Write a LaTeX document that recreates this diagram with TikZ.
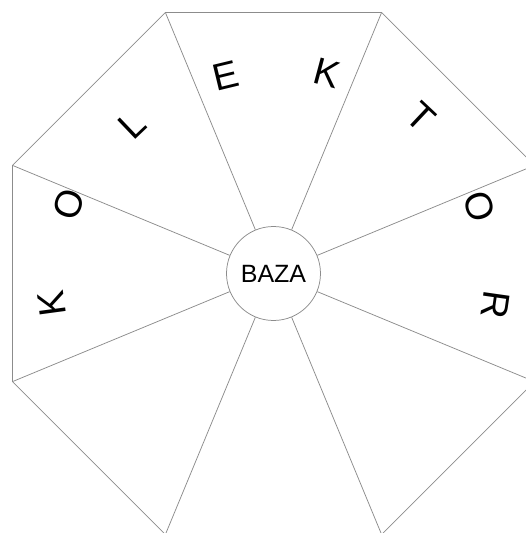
\documentclass[tikz,border=0pt]{standalone}
\usepackage{fontspec}
\setmainfont{Liberation Sans}
\begin{document}
\begin{tikzpicture}[x=1pt,y=1pt,
  edge/.style={draw=black!45,line width=0.75pt},
  letter/.style={inner sep=0pt,font=\fontsize{38}{44}\selectfont},
  hub/.style={circle,draw=black!45,line width=0.75pt,fill=white,minimum size=94pt,inner sep=0pt,font=\fontsize{25}{30}\selectfont}]
\useasboundingbox (-273.5,-259.5) rectangle (252.5,273.5);
\clip (-273.5,-259.5) rectangle (252.5,273.5);
\foreach \i in {0,...,7} {
  \coordinate (v\i) at ({22.5+45*\i}:282.5);
}
\node[hub] (baza) at (0,0) {BAZA};
\draw[edge] (v0) -- (v1) -- (v2) -- (v3) -- (v4) -- (v5) -- (v6) -- (v7) -- cycle;
\foreach \i in {0,...,7} {
  \draw[edge] (baza) -- (v\i);
}
\node[letter,rotate=97.7]  (l1) at (-221.8,-29.8) {K};
\node[letter,rotate=71.3]  (l2) at (-204.8,69.5)  {O};
\node[letter,rotate=43.6]  (l3) at (-141.2,148.5) {L};
\node[letter,rotate=13.6]  (l4) at (-47.8,197.2)  {E};
\node[letter,rotate=-14.9] (l5) at (53.2,200.2)   {K};
\node[letter,rotate=-43.3] (l6) at (147.2,156.2)  {T};
\node[letter,rotate=-72.1] (l7) at (206.2,66.8)   {O};
\node[letter,rotate=-98.1] (l8) at (222.2,-31.5)  {R};
\end{tikzpicture}
\end{document}
